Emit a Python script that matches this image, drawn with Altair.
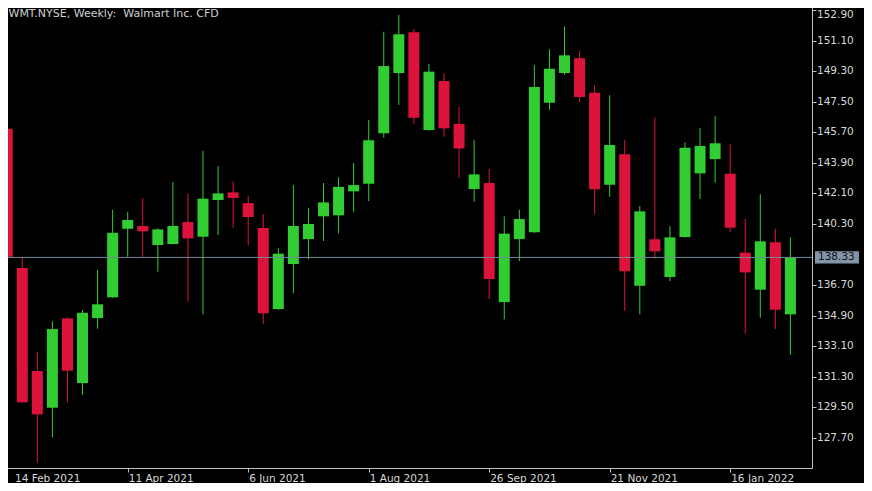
import altair as alt
import pandas as pd

# Weekly candles, first week starting 14 Feb 2021
week_start = pd.date_range("2021-02-14", periods=53, freq="7D").strftime("%Y-%m-%d").tolist()

opens = [145.91, 137.71, 131.64, 129.48, 134.74, 130.93, 134.76, 135.98, 140.02, 140.18,
         139.06, 139.12, 140.41, 139.55, 141.71, 142.16, 141.53, 140.06, 135.29, 137.94,
         139.41, 140.75, 140.81, 142.22, 142.67, 145.64, 149.19, 151.59, 145.83, 148.72,
         146.19, 142.36, 142.71, 135.70, 139.41, 139.81, 147.44, 149.19, 150.06, 148.03,
         142.61, 144.40, 136.66, 139.40, 137.18, 139.53, 143.28, 144.12, 143.26, 138.61,
         136.43, 139.22, 134.98]
highs = [146.20, 138.34, 132.76, 134.57, 134.80, 135.23, 137.59, 141.14, 141.02, 141.81,
         140.05, 142.77, 142.10, 144.61, 143.71, 142.81, 141.96, 140.87, 138.88, 142.59,
         141.24, 142.71, 143.05, 143.89, 146.42, 151.62, 152.61, 151.78, 149.72, 149.17,
         147.19, 145.23, 143.54, 140.75, 141.14, 149.66, 150.59, 151.92, 150.50, 148.48,
         147.88, 145.24, 141.36, 146.58, 140.18, 145.11, 145.95, 146.64, 144.99, 140.59,
         142.05, 140.02, 139.51]
lows = [138.20, 129.75, 126.24, 127.73, 129.80, 130.24, 134.13, 135.95, 138.37, 138.37,
        137.49, 139.10, 135.72, 134.98, 139.65, 140.08, 139.04, 134.41, 135.25, 136.22,
        138.22, 139.30, 139.75, 140.99, 141.65, 145.38, 147.31, 146.20, 145.80, 145.44,
        143.01, 141.61, 135.88, 134.68, 138.12, 139.78, 147.03, 149.09, 147.50, 140.87,
        141.89, 135.19, 134.98, 138.25, 136.94, 139.50, 141.77, 142.73, 139.81, 133.84,
        134.78, 134.11, 132.60]
closes = [138.37, 129.80, 129.09, 134.11, 131.66, 135.07, 135.57, 139.78, 140.53, 139.87,
          139.98, 140.18, 139.45, 141.79, 142.10, 141.83, 140.71, 135.04, 138.55, 140.18,
          140.30, 141.57, 142.48, 142.59, 145.23, 149.60, 151.47, 146.56, 149.27, 145.93,
          144.75, 143.22, 137.06, 139.73, 140.59, 148.37, 149.44, 150.23, 147.78, 142.34,
          144.95, 137.51, 141.04, 138.69, 139.51, 144.79, 144.89, 145.05, 140.08, 137.45,
          139.28, 135.25, 138.33]

tick_weeks = [0, 8, 16, 24, 32, 40, 48]
tick_labels = ["14 Feb 2021", "11 Apr 2021", "6 Jun 2021", "1 Aug 2021",
               "26 Sep 2021", "21 Nov 2021", "16 Jan 2022"]
price_ticks = [127.70, 129.50, 131.30, 133.10, 134.90, 136.70, 140.30,
               142.10, 143.90, 145.70, 147.50, 149.30, 151.10, 152.90]
title_text = "WMT.NYSE, Weekly:\u00a0 Walmart Inc. CFD"
last_price = closes[-1]

GREEN = "#32CD32"
RED = "#DC143C"
FONT = "DejaVu Sans"
LABEL = "#d8d8d8"
FS = 10.5

df = pd.DataFrame({
    "week": week_start,
    "idx": list(range(len(week_start))),
    "open": opens, "high": highs, "low": lows, "close": closes,
})
df["dir"] = ["up" if c >= o else "down" for o, c in zip(opens, closes)]

one = pd.DataFrame({"title": [title_text], "last": [last_price],
                    "last_label": [f"{last_price:.2f}"]})
ticks_df = pd.DataFrame({"idx": tick_weeks, "label": tick_labels})
prices_df = pd.DataFrame({"price": price_ticks})

x_scale = alt.Scale(domain=[-0.08, 53.1], nice=False, zero=False)
y_scale = alt.Scale(domain=[125.93, 153.43], nice=False, zero=False)
color = alt.Color("dir:N", scale=alt.Scale(domain=["up", "down"], range=[GREEN, RED]), legend=None)

x_axis = alt.Axis(values=tick_weeks, labels=False, title=None, grid=False, domain=False,
                  tickSize=4, tickColor="#c0c0c0")
y_axis = alt.Axis(values=price_ticks, labels=False, orient="right", title=None, grid=False,
                  domain=False, tickSize=4, tickColor="#c0c0c0")

base = alt.Chart(df)

wicks = base.mark_rule(strokeWidth=1, clip=True).encode(
    x=alt.X("idx:Q", scale=x_scale, axis=x_axis),
    y=alt.Y("low:Q", scale=y_scale, axis=y_axis),
    y2="high:Q",
    color=color,
)
bodies = base.mark_bar(size=11, clip=True).encode(
    x=alt.X("idx:Q", scale=x_scale, axis=x_axis),
    y=alt.Y("open:Q", scale=y_scale, axis=y_axis),
    y2="close:Q",
    color=color,
)
last_line = alt.Chart(one).mark_rule(color="#778899", strokeWidth=1).encode(
    y=alt.Y("last:Q", scale=y_scale, axis=y_axis),
    x=alt.value(0), x2=alt.value(811),
)
# price labels on the right (top one nudged so the page edge does not cut it)
price_labels = alt.Chart(prices_df).transform_calculate(
    ypos="min(datum.price, 152.6)",
    txt="format(datum.price, '.2f')",
).mark_text(align="left", baseline="middle", font=FONT, fontSize=FS, color=LABEL).encode(
    x=alt.value(816),
    y=alt.Y("ypos:Q", scale=y_scale, axis=y_axis),
    text="txt:N",
)
last_box = alt.Chart(one).mark_rect(color="#8494a8").encode(
    x=alt.value(814), x2=alt.value(858),
    y=alt.Y(datum=last_price + 0.36, scale=y_scale, axis=y_axis),
    y2=alt.Y2(datum=last_price - 0.36),
)
last_text = alt.Chart(one).mark_text(align="left", baseline="middle", font=FONT,
                                     fontSize=FS, color="#101010").encode(
    x=alt.value(817),
    y=alt.Y("last:Q", scale=y_scale, axis=y_axis),
    text="last_label:N",
)
title = alt.Chart(one).mark_text(align="left", baseline="alphabetic", font=FONT,
                                 fontSize=11, color="#d0d0d0").encode(
    x=alt.value(7.5), y=alt.value(15.5), text="title:N",
)
# date labels under the ticks (first one nudged so it is not cut by the page edge)
date_labels = alt.Chart(ticks_df).transform_calculate(
    xpos="max(datum.idx, 0.45)"
).mark_text(align="left", baseline="top", font=FONT, fontSize=FS, color=LABEL, dx=1).encode(
    x=alt.X("xpos:Q", scale=x_scale, axis=x_axis),
    y=alt.value(473),
    text="label:N",
)

chart = alt.layer(wicks, bodies, last_line, price_labels, last_box, last_text, title,
                  date_labels).properties(
    width=811, height=467,
    padding={"left": -7, "top": -7, "right": 52, "bottom": 15},
    autosize=alt.AutoSizeParams(type="none"),
    background="#000000",
).configure_view(stroke="#c0c0c0", strokeWidth=1)

chart.save("out.html", embed_options={"renderer": "svg", "actions": False})
